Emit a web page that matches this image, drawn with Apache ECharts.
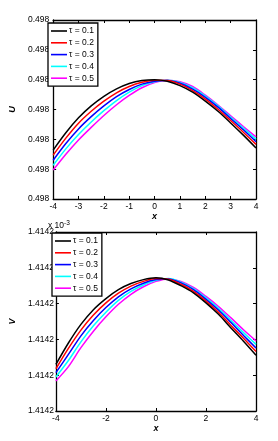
<!DOCTYPE html>
<html><head><meta charset="utf-8">
<script src="https://cdn.jsdelivr.net/npm/echarts@6/dist/echarts.min.js"></script>
<style>html,body{margin:0;padding:0;background:#fff}#c{width:278px;height:441px}</style>
</head><body><div id="c"></div>
<script>
const xs = [-4,-3.5,-3,-2.5,-2,-1.5,-1,-0.5,0,0.5,1,1.5,2,2.5,3,3.5,4];
const names = ['τ = 0.1','τ = 0.2','τ = 0.3','τ = 0.4','τ = 0.5'];
const colors = ['#000000','#ff0000','#0000ff','#00ffff','#ff00ff'];
const U1 = [0.49799164,0.49799222,0.49799272,0.49799312,0.49799344,0.49799369,0.49799387,0.49799397,0.49799400,0.49799395,0.49799380,0.49799358,0.49799328,0.49799294,0.49799255,0.49799214,0.49799171];
const U2 = [0.49799147,0.49799204,0.49799254,0.49799294,0.49799328,0.49799356,0.49799377,0.49799391,0.49799398,0.49799397,0.49799385,0.49799363,0.49799335,0.49799301,0.49799263,0.49799224,0.49799183];
const U3 = [0.49799130,0.49799186,0.49799235,0.49799276,0.49799312,0.49799343,0.49799367,0.49799385,0.49799395,0.49799397,0.49799388,0.49799368,0.49799341,0.49799308,0.49799270,0.49799232,0.49799192];
const U4 = [0.49799113,0.49799168,0.49799216,0.49799258,0.49799296,0.49799330,0.49799358,0.49799380,0.49799393,0.49799398,0.49799391,0.49799373,0.49799345,0.49799312,0.49799275,0.49799238,0.49799200];
const U5 = [0.49799097,0.49799150,0.49799198,0.49799240,0.49799280,0.49799316,0.49799347,0.49799373,0.49799390,0.49799398,0.49799393,0.49799377,0.49799348,0.49799315,0.49799279,0.49799243,0.49799208];
// V values in units of 1e-3 (as shown on axis)
const V1 = [1.4142013,1.4142019,1.41420242,1.41420283,1.41420314,1.41420339,1.41420356,1.41420367,1.41420372,1.41420366,1.4142035,1.4142033,1.41420302,1.4142027,1.41420232,1.41420195,1.41420156];
const V2 = [1.41420118,1.41420175,1.41420226,1.41420268,1.41420302,1.41420329,1.41420349,1.41420362,1.4142037,1.41420368,1.41420354,1.41420334,1.41420307,1.41420276,1.41420239,1.41420203,1.41420166];
const V3 = [1.41420107,1.41420158,1.4142021,1.41420253,1.41420289,1.41420319,1.41420341,1.41420357,1.41420367,1.41420369,1.41420358,1.41420339,1.41420312,1.41420282,1.41420247,1.41420211,1.41420176];
const V4 = [1.41420095,1.41420141,1.41420193,1.41420238,1.41420276,1.41420309,1.41420334,1.41420352,1.41420365,1.4142037,1.4142036,1.41420342,1.41420316,1.41420287,1.41420253,1.41420219,1.41420186];
const V5 = [1.41420084,1.41420124,1.41420177,1.41420223,1.41420263,1.41420298,1.41420326,1.41420347,1.41420362,1.41420369,1.41420362,1.41420345,1.4142032,1.41420292,1.4142026,1.41420227,1.41420196];
const uTop = {min:0.497990, max:0.497996, interval:0.000001};
const vBot = {min:1.414200, max:1.414205, interval:0.000001};

const FONT = 'Liberation Sans, Arial, sans-serif';
const Us = [U1,U2,U3,U4,U5], Vs = [V1,V2,V3,V4,V5];
const chart = echarts.init(document.getElementById('c'), null, {renderer:'canvas'});
const axLine = {show:true, onZero:false, lineStyle:{color:'#000', width:1.3}};
const tick = {show:true, inside:true, length:3, lineStyle:{color:'#000'}};
const lab = {color:'#000', fontSize:8.5, fontFamily:FONT};
function xAx(grid, interval, pos, showLab, name){
  return {type:'value', gridIndex:grid, min:-4, max:4, interval:interval, position:pos,
    axisLine:axLine, axisTick:tick, splitLine:{show:false},
    axisLabel:Object.assign({show:showLab, margin:3}, lab),
    name:name||'', nameLocation:'middle', nameGap:10,
    nameTextStyle:{color:'#000', fontSize:9, fontStyle:'italic', fontWeight:'bold', fontFamily:FONT}};
}
function yAx(grid, r, pos, showLab, name, fmt, margin){
  return {type:'value', gridIndex:grid, min:r.min, max:r.max, interval:r.interval, position:pos,
    axisLine:axLine, axisTick:tick, splitLine:{show:false},
    axisLabel:Object.assign({show:showLab, margin:margin, formatter:fmt}, lab),
    name:name||'', nameLocation:'middle', nameGap:30, nameRotate:90,
    nameTextStyle:{color:'#000', fontSize:9, fontStyle:'italic', fontWeight:'bold', fontFamily:FONT}};
}
const series = [];
for (let i=0;i<5;i++){
  series.push({type:'line', name:names[i], xAxisIndex:0, yAxisIndex:0, symbol:'none', smooth:0.3,
    data: xs.map((x,j)=>[x, Us[i][j]]), lineStyle:{color:colors[i], width:1.5}, itemStyle:{color:colors[i]}, z:10-i});
}
for (let i=0;i<5;i++){
  series.push({type:'line', name:names[i], xAxisIndex:2, yAxisIndex:2, symbol:'none', smooth:0.3,
    data: xs.map((x,j)=>[x, Vs[i][j]]), lineStyle:{color:colors[i], width:1.5}, itemStyle:{color:colors[i]}, z:10-i});
}
function legend(left, top){
  return {data:names, left:left, top:top, orient:'vertical', icon:'rect', itemWidth:16, itemHeight:1.6, itemGap:1.8,
    padding:[3,4,3,3], borderColor:'#000', borderWidth:1.3, backgroundColor:'#fff',
    textStyle:{color:'#000', fontSize:8.5, fontFamily:FONT, padding:[0,0,0,-3], lineHeight:10}, selectedMode:false, z:20};
}
chart.setOption({
  animation:false,
  grid:[{left:43, top:20, width:213, height:179}, {left:48, top:232, width:208, height:179}],
  xAxis:[xAx(0,1,'bottom',true,'x'), xAx(0,1,'top',false), xAx(1,2,'bottom',true,'x'), xAx(1,2,'top',false)],
  yAxis:[yAx(0,uTop,'left',true,'U',v=>v.toFixed(3),4), yAx(0,uTop,'right',false,'',null,4),
         yAx(1,vBot,'left',true,'V',v=>v.toFixed(4),2), yAx(1,vBot,'right',false,'',null,2)],
  legend:[legend(48,23), legend(52,233)],
  graphic:[{type:'text', left:48, top:220, style:{
    text:'{a|x 10}{b|-3}', rich:{a:{fontSize:8.5, fontFamily:FONT, fill:'#000', verticalAlign:'bottom', lineHeight:10}, b:{fontSize:6.5, fontFamily:FONT, fill:'#000', verticalAlign:'top', lineHeight:10, padding:[0,0,6,0]}}}}],
  series:series
});
</script></body></html>
